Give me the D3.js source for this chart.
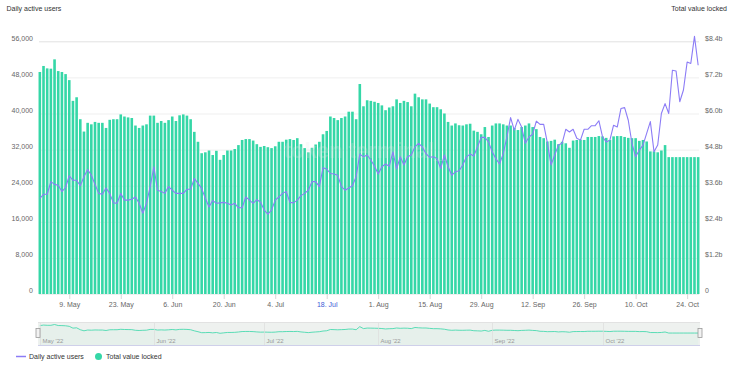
<!DOCTYPE html>
<html><head><meta charset="utf-8">
<script src="https://cdn.jsdelivr.net/npm/d3@7"></script>
<style>
html,body{margin:0;padding:0;background:#fff;}
svg{display:block;font-family:"Liberation Sans",Arial,sans-serif;}
</style></head><body>
<svg id="chart" width="730" height="367"></svg>
<script>
// ---------- DATA ----------
const startDate = "2022-05-01";   // first daily point
const dayCount = 180;             // 1 May .. 27 Oct 2022

// Daily active users (line, left axis)
const dauValues = [
 21200,22100,22100,24900,24300,24100,22700,23600,26200,25200,
 25200,24000,26000,27600,26300,24300,22300,22100,23500,22300,
 20200,20100,22300,20800,20800,21000,21500,20100,17900,20100,
 23800,28200,23000,22700,22300,23800,23000,22300,22300,22300,
 23200,23200,25600,24500,23400,21200,19300,20700,20100,20200,
 20300,20100,19700,20100,19100,19100,21500,20800,20100,20900,
 20400,18600,17700,18600,20800,21500,22300,22700,20300,20200,
 20800,21800,22300,23000,24900,24900,23800,28000,27700,26700,
 26600,26300,23800,23000,23500,24000,26000,31000,30400,30800,
 29700,28300,26600,28200,28800,28300,31500,27700,30400,28600,
 30400,30800,32600,33400,32600,31100,30300,30400,30000,27800,
 30800,28200,26300,27100,27300,28600,30400,31000,30600,32600,
 34700,34700,33700,31500,30000,28800,31100,34800,39100,36300,
 38700,37000,33400,34800,35400,38300,37600,37600,33500,28600,
 30800,33000,33400,36500,35900,36500,34500,34100,36500,36500,
 37300,37300,38400,34800,33700,34100,37400,37000,41100,41300,
 38500,33400,30400,31900,33000,35600,38200,31500,33000,40000,
 42200,40000,49600,49400,42600,45200,51400,51100,57100,50700
];

// Total value locked (bars, right axis, $ billions)
const tvlValues = [
 7.38,7.58,7.50,7.49,7.80,7.41,7.38,7.31,7.11,6.42,
 6.54,5.81,5.40,5.69,5.64,5.72,5.69,5.69,5.52,5.79,
 5.81,5.81,5.97,5.90,5.87,5.85,5.60,5.52,5.60,5.64,
 5.93,5.93,5.69,5.75,5.69,5.78,5.90,5.75,5.94,5.97,
 5.93,5.81,5.39,5.06,4.68,4.71,4.77,4.62,4.76,4.46,
 4.62,4.77,4.77,4.82,4.95,5.12,5.15,5.15,5.10,4.98,
 4.89,4.92,4.88,4.85,4.91,5.06,5.06,5.13,5.15,5.12,
 5.18,4.98,4.85,4.71,4.86,4.97,5.06,5.31,5.42,5.90,
 5.85,5.78,5.85,5.90,6.06,6.06,5.81,6.98,6.24,6.44,
 6.42,6.39,6.35,6.27,6.11,6.20,6.24,6.47,6.35,6.42,
 6.38,6.24,6.66,6.54,6.47,6.47,6.33,6.21,6.21,6.14,
 6.00,5.72,5.60,5.67,5.61,5.60,5.64,5.66,5.43,5.39,
 5.31,5.55,5.22,5.60,5.67,5.67,5.64,5.60,5.60,5.52,
 5.45,5.55,5.60,5.67,5.55,5.48,5.22,5.18,5.07,5.09,
 5.13,4.98,5.06,5.01,4.86,5.10,5.12,5.13,5.12,5.22,
 5.22,5.22,5.25,5.24,5.19,5.12,5.24,5.25,5.25,5.22,
 5.19,5.18,5.18,5.09,5.12,5.07,4.74,4.74,4.71,4.77,
 4.95,4.55,4.55,4.55,4.55,4.55,4.55,4.55,4.55,4.55
];

const leftTicks  = [0, 8000, 16000, 24000, 32000, 40000, 48000, 56000];
const rightTicks = [0, 1.2, 2.4, 3.6, 4.8, 6.0, 7.2, 8.4];
const xTickDates = ["2022-05-09","2022-05-23","2022-06-06","2022-06-20","2022-07-04","2022-07-18",
                    "2022-08-01","2022-08-15","2022-08-29","2022-09-12","2022-09-26","2022-10-10","2022-10-24"];
const highlightTick = "2022-07-18";
const navMonths = ["2022-05-01","2022-06-01","2022-07-01","2022-08-01","2022-09-01","2022-10-01"];
const leftTitle = "Daily active users";
const rightTitle = "Total value locked";
const legendItems = ["Daily active users", "Total value locked"];

// ---------- SETUP ----------
const svg = d3.select("#chart");
const parse = d3.utcParse("%Y-%m-%d");
const d0 = parse(startDate);
const dates = d3.range(dayCount).map(i => d3.utcDay.offset(d0, i));
const data = dates.map((d, i) => ({date: d, dau: dauValues[i], tvl: tvlValues[i]}));

const L = 38, R = 700, T = 41.3, B = 294;
const BAR = "#35d7a7", LINE = "#8c7cf6";
const half = 12 * 3600 * 1000;
const x = d3.scaleUtc().domain([new Date(+dates[0] - half), new Date(+dates[dayCount-1] + half)]).range([L, R]);
const yL = d3.scaleLinear().domain([0, 56000]).range([B, T]);
const yR = d3.scaleLinear().domain([0, 8.4]).range([B, T]);

// titles
svg.append("text").attr("x", 6.5).attr("y", 10.5).attr("font-size", 7).attr("fill", "#333").text(leftTitle);
svg.append("text").attr("x", 727).attr("y", 10.5).attr("text-anchor", "end").attr("font-size", 7).attr("fill", "#333").text(rightTitle);

// gridlines
const grid = svg.append("g").attr("transform", `translate(${L},0)`)
  .call(d3.axisLeft(yL).tickValues(leftTicks).tickSize(-(R - L - 2)).tickFormat(""));
grid.select(".domain").remove();
grid.selectAll("line").attr("stroke", "#efefef").attr("stroke-width", 1).attr("transform", "translate(1,0)");
grid.selectAll(".tick").filter(d => d === 56000).select("line").attr("stroke", "#e2e2e2");

// left axis labels
const ga = svg.append("g").attr("transform", `translate(${L},0)`)
  .call(d3.axisLeft(yL).tickValues(leftTicks).tickSize(0).tickPadding(5).tickFormat(d3.format(",")));
ga.select(".domain").remove();
ga.selectAll("text").attr("font-size", 7).attr("fill", "#666").attr("y", -3.5).attr("font-family", "Liberation Sans, Arial, sans-serif");

// right axis labels
const gr = svg.append("g").attr("transform", `translate(${R},0)`)
  .call(d3.axisRight(yR).tickValues(rightTicks).tickSize(0).tickPadding(5)
    .tickFormat(v => v === 0 ? "0" : "$" + v.toFixed(1) + "b"));
gr.select(".domain").remove();
gr.selectAll("text").attr("font-size", 7).attr("fill", "#666").attr("y", -3.5).attr("font-family", "Liberation Sans, Arial, sans-serif");

// bars
const bw = 2.6;
svg.append("g").selectAll("rect").data(data).join("rect")
  .attr("x", d => x(d.date) - bw / 2).attr("width", bw)
  .attr("y", d => yR(d.tvl)).attr("height", d => B - yR(d.tvl))
  .attr("fill", BAR);

// watermark
svg.append("text").attr("x", 365).attr("y", 158).attr("text-anchor", "middle")
  .attr("font-size", 22).attr("font-weight", 700).attr("fill", "#e6e6e6").attr("opacity", 0.22)
  .attr("font-family", "Liberation Sans, Arial, sans-serif").text("token terminal_");

// line
svg.append("path").datum(data)
  .attr("fill", "none").attr("stroke", LINE).attr("stroke-width", 1.1).attr("stroke-linejoin", "round")
  .attr("d", d3.line().x(d => x(d.date)).y(d => yL(d.dau)));

// x axis
const gx = svg.append("g").attr("transform", `translate(0,${B})`)
  .call(d3.axisBottom(x).tickValues(xTickDates.map(parse)).tickSize(5).tickPadding(3)
    .tickFormat(d3.utcFormat("%-d. %b")));
gx.select(".domain").remove();
gx.selectAll("line").attr("stroke", "#d8d8d8");
gx.selectAll("text").attr("font-size", 7).attr("fill", "#666").attr("font-family", "Liberation Sans, Arial, sans-serif");
gx.selectAll(".tick").filter(d => +d === +parse(highlightTick)).select("text").attr("fill", "#3d5bd6");

// ---------- NAVIGATOR ----------
const NT = 322, NB = 345;
const nav = svg.append("g");
nav.append("rect").attr("x", L).attr("y", NT).attr("width", R - L).attr("height", NB - NT).attr("fill", "#eef1ef");
const yN = d3.scaleLinear().domain([0, d3.max(tvlValues)]).range([NB, NT + 2.5]);
nav.append("path").datum(data).attr("fill", "#e6f0eb")
  .attr("d", d3.area().x(d => x(d.date)).y0(NB).y1(d => yN(d.tvl)));
nav.append("path").datum(data).attr("fill", "none").attr("stroke", BAR).attr("stroke-width", 0.8)
  .attr("d", d3.line().x(d => x(d.date)).y(d => yN(d.tvl)));
const mg = nav.append("g").selectAll("g").data(navMonths.map(parse)).join("g")
  .attr("transform", d => `translate(${Math.round(Math.max(x(d), L)) + 0.5},0)`);
mg.append("line").attr("y1", NT).attr("y2", NB).attr("stroke", "#dcdcdc").attr("stroke-width", 0.7);
mg.append("text").attr("x", 2).attr("y", 342.5).attr("font-size", 6).attr("fill", "#999")
  .text(d => d3.utcFormat("%b '%y")(d));
nav.append("line").attr("x1", L).attr("x2", R).attr("y1", NT + 0.5).attr("y2", NT + 0.5).attr("stroke", "#e2e2e2");
nav.append("line").attr("x1", L).attr("x2", R).attr("y1", NB + 0.5).attr("y2", NB + 0.5).attr("stroke", "#cfd0ea");
[L, R].forEach(hx => {
  nav.append("rect").attr("x", hx - 2).attr("y", 328.5).attr("width", 4).attr("height", 9)
    .attr("fill", "#f2f2f2").attr("stroke", "#999").attr("stroke-width", 0.8);
});

// ---------- LEGEND ----------
const lg = svg.append("g");
lg.append("line").attr("x1", 16).attr("x2", 26).attr("y1", 356.5).attr("y2", 356.5).attr("stroke", LINE).attr("stroke-width", 1.5);
lg.append("text").attr("x", 29).attr("y", 359).attr("font-size", 7).attr("fill", "#333").text(legendItems[0]);
lg.append("circle").attr("cx", 98.5).attr("cy", 356.5).attr("r", 3.5).attr("fill", BAR);
lg.append("text").attr("x", 106).attr("y", 359).attr("font-size", 7).attr("fill", "#333").text(legendItems[1]);
</script>
</body></html>
